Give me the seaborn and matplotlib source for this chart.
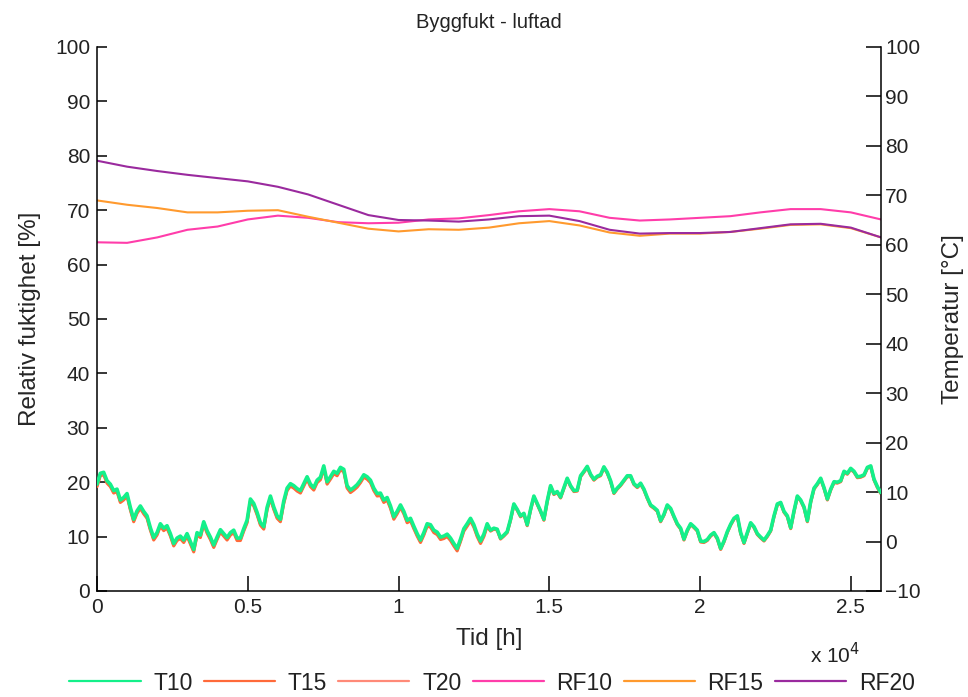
import numpy as np
import matplotlib
matplotlib.use("Agg")
import matplotlib.pyplot as plt
import seaborn as sns
from matplotlib.ticker import FuncFormatter

# ---------------- data ----------------
T_STEP_H = 110.6  # hours between temperature samples
T10 = [11.6, 13.8, 14.0, 12.3, 11.6, 10.3, 10.6, 8.4, 8.9, 9.7,
       6.9, 4.5, 6.2, 7.2, 6.1, 5.2, 2.8, 0.8, 1.8, 3.6,
       2.7, 3.2, 1.6, -0.4, 0.7, 1.1, 0.3, 1.6, 0.0, -1.6,
       1.8, 1.3, 4.0, 2.2, 0.9, -0.7, 0.9, 2.4, 1.6, 0.8,
       1.8, 2.3, 0.7, 0.7, 2.6, 4.3, 8.6, 7.7, 5.9, 3.8,
       3.0, 6.9, 9.2, 7.0, 5.2, 4.5, 8.2, 10.8, 11.7, 11.3,
       10.7, 10.3, 11.7, 13.1, 11.6, 10.9, 12.4, 13.0, 15.3, 12.1,
       13.1, 14.2, 13.8, 15.0, 14.6, 11.3, 10.4, 10.9, 11.5, 12.4,
       13.5, 13.1, 12.4, 10.8, 9.7, 9.8, 8.4, 8.9, 7.2, 5.0,
       6.1, 7.4, 6.1, 4.3, 4.7, 3.1, 1.6, 0.3, 1.8, 3.6,
       3.4, 2.3, 1.9, 0.9, 1.1, 1.5, 0.7, -0.4, -1.4, 0.5,
       2.6, 3.6, 4.7, 3.4, 1.5, 0.1, 1.5, 3.6,
       2.3, 2.7, 2.5, 0.7, 1.3, 2.0, 4.5, 7.6, 6.5, 5.2,
       5.7, 3.4, 6.5, 9.2, 7.7, 6.2, 4.5, 8.2, 11.3, 9.7,
       10.1, 9.0, 10.9, 12.8, 11.3, 10.3, 10.4, 13.3, 14.2, 15.2,
       13.6, 12.6, 13.2, 13.5, 15.1, 14.0, 12.3, 9.9, 10.8, 11.5,
       12.4, 13.3, 13.3, 11.7, 11.1, 11.8, 10.6, 8.9, 7.4, 6.9,
       6.3, 4.2, 5.5, 7.4, 6.7, 5.1, 3.6, 2.7, 0.5, 2.3,
       3.6, 3.0, 2.3, 0.1, 0.0, 0.4, 1.3, 1.8, 0.7, -1.4,
       0.1, 2.0, 3.5, 4.7, 5.2, 1.8, -0.2, 1.8, 3.8, 3.0,
       1.6, 0.9, 0.3, 1.2, 2.3, 5.2, 7.6, 7.9, 6.1, 5.2,
       2.8, 6.2, 9.2, 8.4, 7.0, 4.2, 8.1, 10.8, 11.7, 12.8,
       10.9, 8.6, 10.6, 12.1, 12.0, 12.3, 14.2, 13.8, 14.8, 14.2,
       13.1, 13.2, 13.5, 15.0, 15.3, 12.6, 11.1, 9.9]

T15 = [11.1, 13.3, 13.5, 11.8, 11.1, 9.8, 10.1, 7.9, 8.4, 9.2,
       6.4, 4.0, 5.7, 6.7, 5.6, 4.7, 2.3, 0.3, 1.3, 3.1,
       2.2, 2.7, 1.1, -0.9, 0.2, 0.6, -0.2, 1.1, -0.5, -2.1,
       1.3, 0.8, 3.5, 1.7, 0.4, -1.2, 0.4, 1.9, 1.1, 0.3,
       1.3, 1.8, 0.2, 0.2, 2.1, 3.8, 8.1, 7.2, 5.4, 3.3,
       2.5, 6.4, 8.7, 6.5, 4.7, 4.0, 7.7, 10.3, 11.2, 10.8,
       10.2, 9.8, 11.2, 12.6, 11.1, 10.4, 11.9, 12.5, 14.8, 11.6,
       12.6, 13.7, 13.3, 14.5, 14.1, 10.8, 9.9, 10.4, 11.0, 11.9,
       13.0, 12.6, 11.9, 10.3, 9.2, 9.3, 7.9, 8.4, 6.7, 4.5,
       5.6, 6.9, 5.6, 3.8, 4.2, 2.6, 1.1, -0.2, 1.3, 3.1,
       2.9, 1.8, 1.4, 0.4, 0.6, 1.0, 0.2, -0.9, -1.9, 0.0,
       2.1, 3.1, 4.2, 2.9, 1.0, -0.4, 1.0, 3.1,
       2.1, 2.5, 2.3, 0.5, 1.1, 1.8, 4.3, 7.4, 6.3, 5.0,
       5.5, 3.2, 6.3, 9.0, 7.5, 6.0, 4.3, 8.0, 11.1, 9.5,
       9.9, 8.8, 10.7, 12.6, 11.1, 10.1, 10.2, 13.1, 14.0, 15.0,
       13.4, 12.4, 13.0, 13.3, 14.9, 13.8, 12.1, 9.7, 10.6, 11.3,
       12.2, 13.1, 13.1, 11.5, 10.9, 11.6, 10.4, 8.7, 7.2, 6.7,
       6.1, 4.0, 5.3, 7.2, 6.5, 4.9, 3.4, 2.5, 0.3, 2.1,
       3.4, 2.8, 2.1, -0.1, -0.2, 0.2, 1.1, 1.6, 0.5, -1.6,
       -0.1, 1.8, 3.3, 4.5, 5.0, 1.6, -0.4, 1.6, 3.6, 2.8,
       1.4, 0.7, 0.1, 1.0, 2.1, 5.0, 7.4, 7.7, 5.9, 5.0,
       2.6, 6.0, 9.0, 8.2, 6.8, 4.0, 7.9, 10.6, 11.5, 12.6,
       10.7, 8.4, 10.4, 11.9, 11.8, 12.1, 14.0, 13.6, 14.6, 14.0,
       12.9, 13.0, 13.3, 14.8, 15.1, 12.4, 10.9, 9.7]

T20 = [11.3, 13.5, 13.7, 12.0, 11.3, 10.0, 10.3, 8.1, 8.6, 9.4,
       6.6, 4.2, 5.9, 6.9, 5.8, 4.9, 2.5, 0.5, 1.5, 3.3,
       2.4, 2.9, 1.3, -0.7, 0.4, 0.8, 0.0, 1.3, -0.3, -1.9,
       1.5, 1.0, 3.7, 1.9, 0.6, -1.0, 0.6, 2.1, 1.3, 0.5,
       1.5, 2.0, 0.4, 0.4, 2.3, 4.0, 8.3, 7.4, 5.6, 3.5,
       2.7, 6.6, 8.9, 6.7, 4.9, 4.2, 7.9, 10.5, 11.4, 11.0,
       10.4, 10.0, 11.4, 12.8, 11.3, 10.6, 12.1, 12.7, 15.0, 11.8,
       12.8, 13.9, 13.5, 14.7, 14.3, 11.0, 10.1, 10.6, 11.2, 12.1,
       13.2, 12.8, 12.1, 10.5, 9.4, 9.5, 8.1, 8.6, 6.9, 4.7,
       5.8, 7.1, 5.8, 4.0, 4.4, 2.8, 1.3, 0.0, 1.5, 3.3,
       3.1, 2.0, 1.6, 0.6, 0.8, 1.2, 0.4, -0.7, -1.7, 0.2,
       2.3, 3.3, 4.4, 3.1, 1.2, -0.2, 1.2, 3.3,
       2.2, 2.6, 2.4, 0.6, 1.2, 1.9, 4.4, 7.5, 6.4, 5.1,
       5.6, 3.3, 6.4, 9.1, 7.6, 6.1, 4.4, 8.1, 11.2, 9.6,
       10.0, 8.9, 10.8, 12.7, 11.2, 10.2, 10.3, 13.2, 14.1, 15.1,
       13.5, 12.5, 13.1, 13.4, 15.0, 13.9, 12.2, 9.8, 10.7, 11.4,
       12.3, 13.2, 13.2, 11.6, 11.0, 11.7, 10.5, 8.8, 7.3, 6.8,
       6.2, 4.1, 5.4, 7.3, 6.6, 5.0, 3.5, 2.6, 0.4, 2.2,
       3.5, 2.9, 2.2, 0.0, -0.1, 0.3, 1.2, 1.7, 0.6, -1.5,
       0.0, 1.9, 3.4, 4.6, 5.1, 1.7, -0.3, 1.7, 3.7, 2.9,
       1.5, 0.8, 0.2, 1.1, 2.2, 5.1, 7.5, 7.8, 6.0, 5.1,
       2.7, 6.1, 9.1, 8.3, 6.9, 4.1, 8.0, 10.7, 11.6, 12.7,
       10.8, 8.5, 10.5, 12.0, 11.9, 12.2, 14.1, 13.7, 14.7, 14.1,
       13.0, 13.1, 13.4, 14.9, 15.2, 12.5, 11.0, 9.8]

RF_STEP_H = 1000  # hours between humidity samples
RF10 = [64.1, 64.0, 65.0, 66.4, 67.0, 68.3, 69.0, 68.6, 67.8, 67.6,
        67.7, 68.3, 68.5, 69.1, 69.8, 70.2, 69.8, 68.6, 68.1, 68.3,
        68.6, 68.9, 69.6, 70.2, 70.2, 69.6, 68.3]
RF15 = [71.8, 71.0, 70.4, 69.6, 69.6, 69.9, 70.0, 68.8, 67.7, 66.6,
        66.1, 66.5, 66.4, 66.8, 67.6, 68.0, 67.2, 65.9, 65.3, 65.7,
        65.7, 66.0, 66.6, 67.3, 67.4, 66.7, 65.0]
RF20 = [79.1, 78.0, 77.2, 76.5, 75.9, 75.3, 74.3, 72.9, 71.0, 69.1,
        68.2, 68.1, 67.9, 68.3, 68.9, 69.0, 68.0, 66.4, 65.7, 65.8,
        65.8, 66.0, 66.7, 67.4, 67.5, 66.8, 65.0]

series_names = ["T10", "T15", "T20", "RF10", "RF15", "RF20"]
series_colors = {"T10": "#14F08A", "T15": "#FF6A3A", "T20": "#FF8A78",
                 "RF10": "#FF3DAA", "RF15": "#FF9A2E", "RF20": "#9A2A9E"}

title = "Byggfukt - luftad"
xlabel = "Tid [h]"
ylabel_left = "Relativ fuktighet [%]"
ylabel_right = "Temperatur [°C]"
x_max = 26000
x_ticks = [0, 5000, 10000, 15000, 20000, 25000]
y_left_ticks = list(range(0, 101, 10))
y_right_ticks = list(range(-10, 101, 10))

t_hours = np.arange(len(T10)) * T_STEP_H
rf_hours = np.arange(len(RF10)) * RF_STEP_H

# ---------------- styling ----------------
sns.set_theme(style="white")
plt.rcParams["font.family"] = ["Liberation Sans", "DejaVu Sans"]
plt.rcParams["axes.linewidth"] = 1.1
plt.rcParams["text.color"] = "#222222"

fig = plt.figure(figsize=(9.68, 6.97), dpi=100)
ax = fig.add_axes([97 / 968, 1 - 591 / 697, (881 - 97) / 968, (591 - 47) / 697])
ax2 = ax.twinx()

lw = 1.5
# humidity on left axis
for name, vals in (("RF10", RF10), ("RF15", RF15), ("RF20", RF20)):
    sns.lineplot(x=rf_hours, y=vals, ax=ax, color=series_colors[name],
                 linewidth=lw, label=name, legend=False, estimator=None, sort=False)
# temperature on right axis (T10 drawn on top)
for name, vals, z in (("T20", T20, 1), ("T15", T15, 2), ("T10", T10, 3)):
    sns.lineplot(x=t_hours, y=vals, ax=ax2, color=series_colors[name],
                 linewidth=2.6 if name == "T10" else 2.2, label=name, legend=False,
                 estimator=None, sort=False, zorder=z)

ax.set_xlim(0, x_max)
ax.set_ylim(0, 100)
ax2.set_ylim(-10, 100)
ax.set_xticks(x_ticks)
ax.xaxis.set_major_formatter(FuncFormatter(lambda v, p: f"{v / 1e4:g}"))
ax.set_yticks(y_left_ticks)
ax2.set_yticks(y_right_ticks)

for a in (ax, ax2):
    a.spines["top"].set_visible(False)
    for s in a.spines.values():
        s.set_color("black")
        s.set_linewidth(1.1)
ax.spines["right"].set_visible(False)
ax2.spines["left"].set_visible(False)
ax2.spines["bottom"].set_visible(False)

ax.tick_params(axis="y", direction="in", length=7, width=1.1, labelsize=15,
               pad=5, left=True, right=False, colors="black", labelcolor="#222222")
ax.tick_params(axis="x", direction="in", length=11, width=1.1, labelsize=15,
               pad=5, bottom=True, colors="black", labelcolor="#222222")
ax2.tick_params(axis="y", direction="in", length=11, width=1.1, labelsize=15,
                pad=3, right=True, left=False, colors="black", labelcolor="#222222")
ax.grid(False)
ax2.grid(False)

ax.set_xlabel(xlabel, fontsize=17.5, labelpad=8)
ax.set_ylabel(ylabel_left, fontsize=17.5)
ax.yaxis.set_label_coords(-0.072, 0.5)
ax2.set_ylabel(ylabel_right, fontsize=17.5, rotation=90)
ax2.yaxis.set_label_coords(1.078, 0.5)
ax2.yaxis.label.set_verticalalignment("top")
ax.set_title(title, fontsize=14.5, pad=14)

fig.text(835 / 968, 1 - 655 / 697, r"x 10$^4$", fontsize=15, ha="center", va="center",
         color="#222222")

handles = {}
for a in (ax, ax2):
    for h, l in zip(*a.get_legend_handles_labels()):
        handles[l] = h
leg_handles = []
for n in series_names:
    h = handles[n]
    line = matplotlib.lines.Line2D([], [], color=h.get_color(), linewidth=1.6)
    leg_handles.append(line)
fig.legend(leg_handles, series_names, loc="center",
           bbox_to_anchor=(492 / 968, 1 - 683 / 697), ncol=6, frameon=False,
           fontsize=16.5, handlelength=3.1, handletextpad=0.55, columnspacing=0.5,
           borderaxespad=0)

fig.savefig("out.png", dpi=100, facecolor="white")
